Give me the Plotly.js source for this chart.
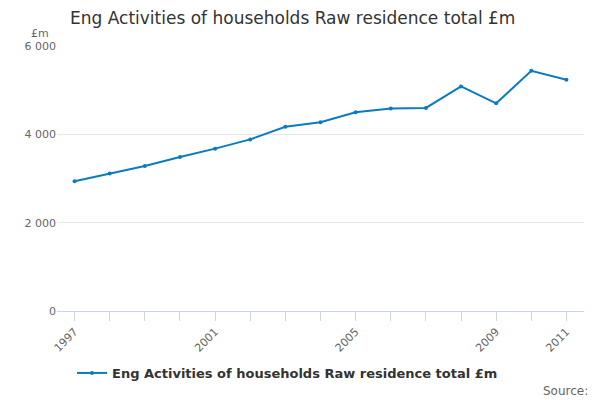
<!DOCTYPE html>
<html>
<head>
<meta charset="utf-8">
<script src="https://cdn.plot.ly/plotly-3.0.1.min.js"></script>
<style>
  html, body {margin:0; padding:0; background:#fff;}
  #chart {width:600px; height:400px;}
</style>
</head>
<body>
<div id="chart"></div>
<script>
const years = [1997, 1998, 1999, 2000, 2001, 2002, 2003, 2004, 2005, 2006, 2007, 2008, 2009, 2010, 2011];
const values = [2940, 3113, 3285, 3487, 3676, 3885, 4171, 4275, 4500, 4583, 4598, 5084, 4702, 5438, 5235];
const labelledYears = [1997, 2001, 2005, 2009, 2011];
const yTicks = [0, 2000, 4000, 6000];
const yTickText = ["0", "2 000", "4 000", "6 000"];
const seriesName = "Eng Activities of households Raw residence total £m";

const font = "DejaVu Sans, sans-serif";

const trace = {
    x: years,
    y: values,
    mode: "lines+markers",
    name: seriesName,
    line: {width: 2, color: "#0b7bc1"},
    marker: {size: 4, color: "#0b7bc1"},
    hovertemplate: "%{x}: %{y}<extra></extra>"
};

const layout = {
    width: 600,
    height: 400,
    margin: {l: 57, r: 16, t: 46, b: 89},
    paper_bgcolor: "#fff",
    plot_bgcolor: "#fff",
    font: {family: font, color: "#666"},
    title: {
        text: "Eng Activities of households Raw residence total £m",
        font: {size: 17, family: font, color: "#333"},
        x: 70 / 600, xanchor: "left",
        y: 1 - 18 / 400, yanchor: "middle"
    },
    xaxis: {
        range: [1996.5, 2011.5],
        tickvals: years,
        ticktext: years.map(y => labelledYears.includes(y) ? String(y) : ""),
        tickangle: -45,
        ticks: "outside",
        ticklen: 9,
        tickcolor: "#ccd6eb",
        tickfont: {size: 11, family: font, color: "#666"},
        showgrid: false,
        showline: true,
        linecolor: "#ccd6eb",
        linewidth: 1,
        zeroline: false,
        automargin: false,
        fixedrange: true
    },
    yaxis: {
        range: [0, 6000],
        tickvals: yTicks,
        ticktext: yTickText,
        tickfont: {size: 11, family: font, color: "#666"},
        showgrid: true,
        gridcolor: "#e6e6e6",
        showline: false,
        zeroline: false,
        ticks: "",
        automargin: false,
        fixedrange: true
    },
    showlegend: true,
    legend: {
        orientation: "h",
        xref: "container", yref: "container",
        x: 72 / 600, xanchor: "left",
        y: 1 - 373 / 400, yanchor: "middle",
        font: {size: 13, family: font, color: "#333", weight: "bold"}
    },
    annotations: [
        {
            text: "£m", xref: "paper", yref: "paper",
            x: -0.032, y: 1 + 13 / 265, xanchor: "center", yanchor: "middle",
            showarrow: false, font: {size: 11, family: font, color: "#666"}
        },
        {
            text: "Source:", xref: "paper", yref: "paper",
            x: 1 + 6 / 527, y: -80 / 265, xanchor: "right", yanchor: "middle",
            showarrow: false, font: {size: 12, family: font, color: "#666"}
        }
    ]
};

Plotly.newPlot("chart", [trace], layout, {displayModeBar: false, staticPlot: true});
</script>
</body>
</html>
